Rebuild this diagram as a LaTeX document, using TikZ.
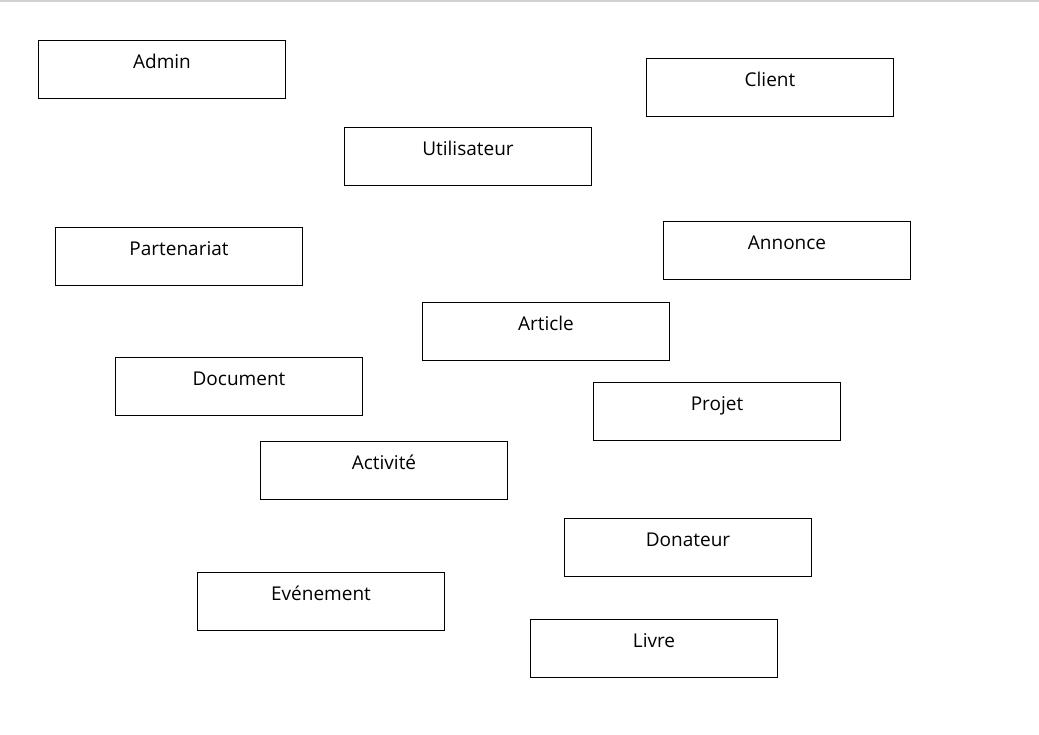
\documentclass[tikz,border=0pt]{standalone}
\usepackage{fontspec}
\setmainfont{Open Sans}

\begin{document}
\begin{tikzpicture}[x = 1pt, y = -1pt, font=\fontsize{19}{21}\selectfont]
	\tikzstyle{boxStyle}=[shape = rectangle, draw, line width = 1pt, anchor = north west, minimum width = 247pt, inner xsep = 0pt, inner ysep = 0pt, text height = 28pt, text depth = 30pt]
	\tikzstyle{topRuleStyle}=[draw = black!18, line width = 2pt]
	\useasboundingbox (0, 0) rectangle (1039, 734);
	\coordinate (ruleL) at (0, 1);
	\coordinate (ruleR) at (1039, 1);
	\draw[topRuleStyle] (ruleL) -- (ruleR);
	\node[boxStyle] (admin) at (38, 40) {Admin};
	\node[boxStyle] (client) at (646, 57.5) {Client};
	\node[boxStyle] (utilisateur) at (344, 126.5) {Utilisateur};
	\node[boxStyle] (partenariat) at (55, 226.5) {Partenariat};
	\node[boxStyle] (annonce) at (663, 220.5) {Annonce};
	\node[boxStyle] (article) at (422, 301.5) {Article};
	\node[boxStyle] (document) at (115, 356.5) {Document};
	\node[boxStyle] (projet) at (593, 381.5) {Projet};
	\node[boxStyle] (activite) at (260, 440.5) {Activité};
	\node[boxStyle] (donateur) at (564, 517.5) {Donateur};
	\node[boxStyle] (evenement) at (197, 571.5) {Evénement};
	\node[boxStyle] (livre) at (530, 618.5) {Livre};
\end{tikzpicture}
\end{document}
